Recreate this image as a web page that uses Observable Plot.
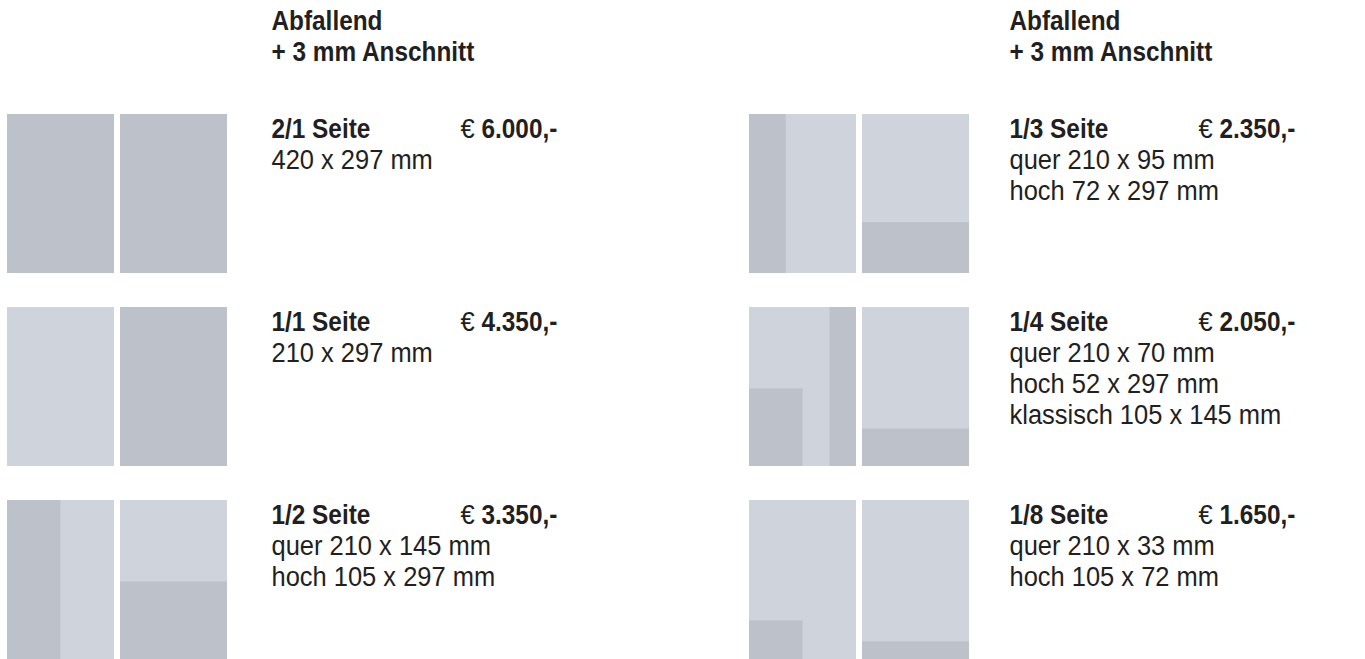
<!DOCTYPE html>
<html><head><meta charset="utf-8">
<script src="https://cdn.jsdelivr.net/npm/d3@7"></script>
<script src="https://cdn.jsdelivr.net/npm/@observablehq/plot@0.6"></script>
<style>html,body{margin:0;padding:0;background:#fff;overflow:hidden}</style>
</head><body><div id="chart"></div>
<script>
// ---- data ----
const formats = ["2/1 Seite", "1/1 Seite", "1/2 Seite", "1/3 Seite", "1/4 Seite", "1/8 Seite"];
const prices = ["6.000,-", "4.350,-", "3.350,-", "2.350,-", "2.050,-", "1.650,-"];
const sizeLines = [
  ["420 x 297 mm"],
  ["210 x 297 mm"],
  ["quer 210 x 145 mm", "hoch 105 x 297 mm"],
  ["quer 210 x 95 mm", "hoch 72 x 297 mm"],
  ["quer 210 x 70 mm", "hoch 52 x 297 mm", "klassisch 105 x 145 mm"],
  ["quer 210 x 33 mm", "hoch 105 x 72 mm"]
];
const headerLines = ["Abfallend", "+ 3 mm Anschnitt"];
const pageWidthMm = 210, pageHeightMm = 297;
// ad placements (in mm on the page thumbnails)
const adFormat   = ["2/1 Seite","2/1 Seite","1/1 Seite","1/2 Seite","1/2 Seite","1/3 Seite","1/3 Seite","1/4 Seite","1/4 Seite","1/4 Seite","1/8 Seite","1/8 Seite"];
const adPage     = [0, 1, 1, 0, 1, 0, 1, 0, 0, 1, 0, 1];
const adWidthMm  = [210, 210, 210, 105, 210, 72, 210, 52, 105, 210, 105, 210];
const adHeightMm = [297, 297, 297, 297, 145, 297, 95, 297, 145, 70, 72, 33];
const adSide     = ["left","left","left","left","left","left","left","right","left","left","left","left"];

// ---- layout (px -> mm scale) ----
const W = 1365, H = 659;
const KX = 107 / 210, KY = 159 / 297;           // px per mm
const colX = [7, 749].map(v => v / KX);
const pageStep = 113 / KX;
const rowY = [114, 307, 500].map(v => v / KY);
const textX = [271, 1009].map(v => v / KX);
const priceDX = 189 / KX, amountDX = 21 / KX;
const labelDY = 23 / KY, lineDY = 31 / KY;
const headerY = [29, 60].map(v => v / KY);

const DARK = "#bcc1ca", LIGHT = "#cfd3dc", INK = "#231f20";
const FONT = "'Liberation Sans', Arial, sans-serif";
const FS = 28;
const SCALE_BOLD = 0.87, SCALE_REG = 0.91;

const slot = i => ({col: i < 3 ? 0 : 1, row: i % 3});

const pages = [];
formats.forEach((f, i) => {
  const {col, row} = slot(i);
  for (const p of [0, 1]) {
    const x1 = colX[col] + p * pageStep;
    pages.push({x1, x2: x1 + pageWidthMm, y1: rowY[row], y2: rowY[row] + pageHeightMm});
  }
});

const ads = adFormat.map((f, k) => {
  const i = formats.indexOf(f);
  const {col, row} = slot(i);
  const px = colX[col] + adPage[k] * pageStep;
  const x1 = adSide[k] === "left" ? px : px + pageWidthMm - adWidthMm[k];
  const y2 = rowY[row] + pageHeightMm;
  return {x1, x2: x1 + adWidthMm[k], y1: y2 - adHeightMm[k], y2};
});

const labels = formats.map((f, i) => {
  const {col, row} = slot(i);
  return {text: f, x: textX[col], y: rowY[row] + labelDY};
});
const euros = formats.map((f, i) => {
  const {col, row} = slot(i);
  return {text: "€", x: textX[col] + priceDX, y: rowY[row] + labelDY};
});
const amounts = prices.map((p, i) => {
  const {col, row} = slot(i);
  return {text: p, x: textX[col] + priceDX + amountDX, y: rowY[row] + labelDY};
});
const details = [];
sizeLines.forEach((lines, i) => {
  const {col, row} = slot(i);
  lines.forEach((t, j) => details.push({text: t, x: textX[col], y: rowY[row] + labelDY + (j + 1) * lineDY}));
});
const headers = [];
[0, 1].forEach(col => headerLines.forEach((t, j) => headers.push({text: t, x: textX[col], y: headerY[j]})));

const txt = (data, weight) => Plot.text(data, {
  x: "x", y: "y", text: "text", textAnchor: "start", lineAnchor: "bottom",
  fontFamily: FONT, fontSize: FS, fontWeight: weight, fill: INK
});

const chart = Plot.plot({
  width: W, height: H, margin: 0,
  x: {domain: [0, W / KX], range: [0, W], axis: null},
  y: {domain: [0, H / KY], range: [0, H], axis: null},
  marks: [
    Plot.rect(pages, {x1: "x1", x2: "x2", y1: "y1", y2: "y2", fill: LIGHT}),
    Plot.rect(ads, {x1: "x1", x2: "x2", y1: "y1", y2: "y2", fill: DARK}),
    txt(headers, "bold"),
    txt(labels, "bold"),
    txt(euros, "normal"),
    txt(amounts, "bold"),
    txt(details, "normal")
  ]
});

// condensed look: compress glyphs horizontally around each text's anchor
d3.select(chart).selectAll("text").each(function () {
  const g = this.closest("[font-weight]");
  const bold = g && g.getAttribute("font-weight") === "bold";
  const s = bold ? SCALE_BOLD : SCALE_REG;
  const tr = this.getAttribute("transform") || "";
  const x = this.getAttribute("x"), y = this.getAttribute("y");
  if (x != null || y != null) {
    this.removeAttribute("x"); this.removeAttribute("y");
    this.setAttribute("transform", `translate(${x || 0},${y || 0}) ${tr} scale(${s},1)`);
  } else {
    this.setAttribute("transform", `${tr} scale(${s},1)`);
  }
});
document.getElementById("chart").appendChild(chart);
</script>
</body></html>
